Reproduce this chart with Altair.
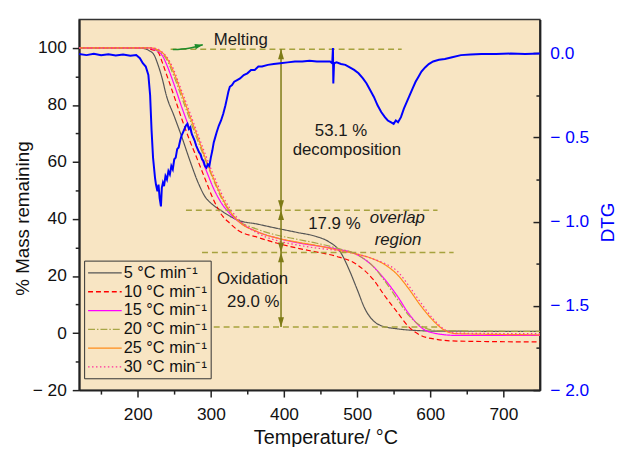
import altair as alt
import pandas as pd

FONT = "Liberation Sans, Arial, Helvetica, sans-serif"
BG = "#F8E5C3"
OLIVE = "#A6A23E"
OLIVE_DARK = "#7E7B16"
GREEN = "#1E8C2A"
BLUE = "#0000FF"
INK = "#1a1a1a"

# ---------------- axis ranges and ticks ----------------
x_domain = [120, 750]
mass_domain = [-20, 110]
dtg_domain = [-2.0, 0.2]
x_tick_values = [150, 200, 250, 300, 350, 400, 450, 500, 550, 600, 650, 700]
mass_tick_values = [-20, -10, 0, 10, 20, 30, 40, 50, 60, 70, 80, 90, 100]
dtg_tick_values = [-2.0, -1.75, -1.5, -1.25, -1.0, -0.75, -0.5, -0.25, 0.0]

# ---------------- TG curves (% mass remaining) ----------------
series_labels = ["5 °C min⁻¹", "10 °C min⁻¹", "15 °C min⁻¹",
                 "20 °C min⁻¹", "25 °C min⁻¹", "30 °C min⁻¹"]
series_colors = ["#555555", "#FF0000", "#FF00FF", "#A8A646", "#FF8C1A", "#FF2E9A"]
series_dashes = [[1, 0], [5, 3], [1, 0], [7, 2, 1.5, 2], [1, 0], [1.5, 2.5]]

t_5 = [120, 200, 211, 216, 222.7, 228, 233.5, 239, 250, 260.7, 271.5, 282.4, 293, 300.4,
       313.8, 336, 364, 391, 418, 445, 461, 478, 489, 500, 511, 522, 533, 555, 582, 609, 750]
m_5 = [100, 100, 99.6, 99, 97.4, 93.9, 89.3, 83.5, 76, 68.5, 60.4, 52.9, 47.5, 45.5,
       43.0, 39.7, 38.2, 36.7, 35.3, 33.8, 32.1, 28.1, 22.3, 15.4, 8.4, 4.4, 2.6, 1.5, 0.9, 0.7, 0.6]

t_10 = [120, 210, 218, 228, 233.5, 239, 250, 260.7, 271.5, 282.4, 293, 304, 315, 326, 337,
        364, 391, 418, 445, 472, 500, 522, 538, 555, 571, 587, 609, 636, 750]
m_10 = [100, 100, 99.5, 98.5, 95, 91, 82.9, 74.8, 67.3, 60.4, 53.5, 46.6, 41.4, 38.5, 36.1,
        33.6, 31.5, 29.8, 28.4, 26.9, 24, 18.8, 13, 7.3, 2.1, -0.8, -2.2, -2.8, -3.1]

t_15 = [120, 214, 222, 233.5, 239, 250, 260.7, 271.5, 282.4, 293, 304, 315, 326, 337, 364,
        391, 418, 445, 472, 500, 522, 538, 555, 571, 587, 609, 636, 750]
m_15 = [100, 100, 99.5, 97.4, 94.5, 87, 78.9, 71.4, 64.4, 57.5, 50.6, 45.4, 41.9, 39.3, 35.5,
        33.3, 31.7, 30.6, 29.5, 27.5, 23.4, 18.8, 13, 6.7, 2.1, -0.2, -0.8, -0.8]

t_20 = [120, 216, 224, 239, 250, 260.7, 271.5, 282.4, 293, 304, 315, 326, 337, 364, 391,
        418, 445, 472, 500, 522, 538, 555, 571, 587, 609, 750]
m_20 = [100, 100, 99.5, 96.2, 89.8, 82.3, 74.8, 67.3, 60.4, 53.5, 47.1, 42.5, 39.6, 36.4, 34.3,
        32.9, 31.5, 29.8, 27.5, 23.4, 18.2, 11.9, 6.1, 2.6, 0.9, 0.6]

t_25 = [120, 218, 226, 239, 250, 260.7, 271.5, 282.4, 293, 304, 315, 326, 337, 364, 391,
        418, 445, 472, 500, 522, 538, 555, 571, 587, 604, 620, 636, 750]
m_25 = [100, 100, 99.5, 96.8, 91, 83.5, 76, 68.5, 61, 54, 47.7, 42.8, 39.4, 35.5, 33.3,
        31.9, 30.7, 29.2, 27.7, 26, 24, 20.5, 15.4, 9.6, 4.4, 0.9, -0.2, -0.6]

t_30 = [120, 220, 228, 244.4, 260.7, 282.4, 304, 315, 326, 337, 364, 391, 418, 445, 472,
        500, 522, 538, 555, 571, 587, 604, 620, 636, 750]
m_30 = [100, 100, 99.5, 95, 84.6, 69.6, 55.2, 48.8, 43.7, 40.2, 35, 32.4, 30.9, 29.8, 29,
        27.7, 26, 24.4, 21.7, 16.5, 10.7, 5, 1.2, 0, -0.2]

# ---------------- DTG curve ----------------
dtg_t = [120, 130, 140, 150, 160, 170, 180, 190, 198, 203, 207, 211, 214.6, 217, 219, 221,
         223.7, 225, 227, 228.5, 230, 231.8, 233, 234.5, 236, 238, 240, 242, 244, 246, 248,
         250, 252, 254, 256, 258, 260, 262, 264, 266, 268, 270, 272, 274, 276, 278, 280, 282,
         284, 286, 288, 290, 292, 294, 296, 298, 300, 302, 304, 306, 308, 311, 314, 317, 320,
         322, 324, 326, 329, 332, 336, 340, 345, 350, 355, 360, 365, 370, 378, 386, 395, 405,
         415, 425, 435, 445, 455, 463, 466, 467, 467.5, 468.5, 472, 478, 484, 490, 496, 502,
         508, 513, 518, 523, 528, 533, 538, 542, 546, 550, 553, 556, 560, 564, 568, 572, 576,
         580, 584, 588, 593, 598, 604, 612, 620, 630, 642, 655, 670, 690, 710, 730, 750]
dtg_v = [-0.005, -0.012, -0.004, -0.013, -0.007, -0.014, -0.009, -0.016, -0.012, -0.03, -0.06,
         -0.08, -0.13, -0.25, -0.46, -0.62, -0.74, -0.78, -0.82, -0.78, -0.86, -0.91, -0.80,
         -0.77, -0.79, -0.73, -0.75, -0.70, -0.72, -0.67, -0.69, -0.63, -0.62, -0.57, -0.56,
         -0.52, -0.49, -0.47, -0.45, -0.43, -0.42, -0.45, -0.44, -0.48, -0.50, -0.52, -0.55,
         -0.57, -0.59, -0.60, -0.63, -0.64, -0.67, -0.68, -0.66, -0.67, -0.62, -0.58, -0.53,
         -0.50, -0.47, -0.43, -0.40, -0.36, -0.31, -0.27, -0.23, -0.20, -0.19, -0.17, -0.16,
         -0.15, -0.13, -0.12, -0.10, -0.10, -0.08, -0.08, -0.07, -0.065, -0.06, -0.055, -0.05,
         -0.05, -0.045, -0.05, -0.05, -0.05, -0.06, 0.03, -0.18, -0.06, -0.055, -0.065, -0.07,
         -0.085, -0.10, -0.12, -0.15, -0.18, -0.22, -0.26, -0.31, -0.35, -0.38, -0.40, -0.41,
         -0.42, -0.40, -0.41, -0.38, -0.33, -0.29, -0.25, -0.21, -0.17, -0.14, -0.11, -0.085,
         -0.065, -0.05, -0.04, -0.035, -0.025, -0.012, -0.008, -0.005, -0.005, -0.003, -0.005,
         -0.003]

# ---------------- annotations ----------------
guide_y = [99.5, 43.1, 28.3, 2.1]
guide_t_start = [245, 266, 288, 304]
guide_t_end = [561, 610, 632, 610]

span_t = [396]
span_top = [99.5]
span_bottom = [2.1]
tip_up_y = [99.5, 43.1, 28.3]
tip_down_y = [43.1, 28.3, 2.1]

melt_t = [248, 270, 289]
melt_y = [99.4, 99.9, 101.1]

label_text = ["Melting", "53.1 %", "decomposition", "17.9 %", "Oxidation", "29.0 %"]
label_t = [341, 478, 486, 469, 357, 358]
label_y = [102.6, 70.8, 64.1, 38.1, 19.1, 10.9]
italic_text = ["overlap", "region"]
italic_t = [555, 556]
italic_y = [40.5, 32.7]

# ---------------- data frames ----------------
rows = []
for i, (lab, ts, ms) in enumerate(zip(series_labels, [t_5, t_10, t_15, t_20, t_25, t_30],
                                      [m_5, m_10, m_15, m_20, m_25, m_30])):
    for t, m in zip(ts, ms):
        rows.append({"T": t, "y": m, "series": lab})
tg_df = pd.DataFrame(rows)
dtg_df = pd.DataFrame({"T": dtg_t, "dtg": dtg_v})
guide_df = pd.DataFrame({"T": guide_t_start, "T2": guide_t_end, "y": guide_y})
span_df = pd.DataFrame({"T": span_t, "y": span_top, "y2": span_bottom})
up_df = pd.DataFrame({"T": span_t * len(tip_up_y), "y": tip_up_y})
down_df = pd.DataFrame({"T": span_t * len(tip_down_y), "y": tip_down_y})
melt_df = pd.DataFrame({"T": melt_t, "y": melt_y})
melt_head_df = melt_df.tail(1)
label_df = pd.DataFrame({"T": label_t, "y": label_y, "text": label_text})
italic_df = pd.DataFrame({"T": italic_t, "y": italic_y, "text": italic_text})

# ---------------- axes ----------------
common_axis = dict(labelFont=FONT, labelColor="#111111", tickColor="#222222", tickWidth=1.5,
                   domainColor="#222222", domainWidth=2, grid=False, labelOverlap=False,
                   titleFont=FONT, titleFontWeight="normal", titleColor="#111111")

x_axis = alt.Axis(values=x_tick_values,
                  labelExpr="datum.value % 100 !== 0 ? '' : datum.label",
                  tickSize=alt.ExprRef(expr="datum.value % 100 !== 0 ? 4 : 7"),
                  labelPadding=9, labelFontSize=17.5, titleFontSize=20,
                  titleX=249, titleY=54, titleBaseline="alphabetic", titleAlign="center",
                  **common_axis)
y_axis = alt.Axis(values=mass_tick_values,
                  labelExpr="datum.value % 20 !== 0 ? '' : (datum.value < 0 ? '− ' + abs(datum.value) : '' + datum.value)",
                  tickSize=alt.ExprRef(expr="datum.value % 20 !== 0 ? 4 : 7"),
                  labelPadding=6, labelFontSize=17.5, titleFontSize=19,
                  titleX=-57, titleY=201, titleAngle=270, titleBaseline="middle",
                  titleAlign="center", **common_axis)
dtg_axis_kw = dict(common_axis)
dtg_axis_kw.update(labelColor=BLUE, titleColor=BLUE)
dtg_axis = alt.Axis(orient="right", values=dtg_tick_values,
                    labelExpr="abs(round(datum.value*4)) % 2 !== 0 ? '' : (datum.value < 0 ? '− ' + format(abs(datum.value), '.1f') : format(abs(datum.value), '.1f'))",
                    tickSize=alt.ExprRef(expr="abs(round(datum.value*4)) % 2 !== 0 ? -4 : -7"),
                    labelPadding=17, labelFontSize=17.5, titleFontSize=19,
                    titleX=68, titleY=205, titleAngle=270, titleBaseline="middle",
                    titleAlign="center", **dtg_axis_kw)

X_TITLE = "Temperature/ °C"
Y_TITLE = "% Mass remaining"


def xenc(field="T"):
    return alt.X(f"{field}:Q", scale=alt.Scale(domain=x_domain, nice=False, zero=False),
                 axis=x_axis, title=X_TITLE)


def yenc(field="y"):
    return alt.Y(f"{field}:Q", scale=alt.Scale(domain=mass_domain, nice=False, zero=False),
                 axis=y_axis, title=Y_TITLE)


legend = alt.Legend(title=None, orient="none", legendX=5, legendY=244, direction="vertical",
                    symbolType="M-1,0H3", symbolSize=289, symbolStrokeWidth=1.3,
                    symbolFillColor="transparent", labelOffset=18,
                    labelFont=FONT, labelFontSize=16.5, labelColor="#111111",
                    strokeColor="#333333", fillColor=BG, padding=3, rowPadding=1)

tg = alt.Chart(tg_df).mark_line(strokeWidth=1.2, interpolate="monotone").encode(
    x=xenc(), y=yenc(),
    color=alt.Color("series:N", scale=alt.Scale(domain=series_labels, range=series_colors),
                    legend=legend),
    strokeDash=alt.StrokeDash("series:N", scale=alt.Scale(domain=series_labels, range=series_dashes),
                              legend=legend),
)

guides = alt.Chart(guide_df).mark_rule(color=OLIVE, strokeWidth=1.5, strokeDash=[6, 4]).encode(
    x=xenc(), x2="T2:Q", y=yenc())

span = alt.Chart(span_df).mark_rule(color=OLIVE_DARK, strokeWidth=1.5).encode(
    x=xenc(), y=yenc(), y2="y2:Q")

tips_up = alt.Chart(up_df).mark_point(shape="M0,0L-0.6,2L0.6,2Z", size=100, filled=True,
                                      color=OLIVE_DARK, opacity=1).encode(x=xenc(), y=yenc())
tips_down = alt.Chart(down_df).mark_point(shape="M0,0L-0.6,-2L0.6,-2Z", size=100, filled=True,
                                          color=OLIVE_DARK, opacity=1).encode(x=xenc(), y=yenc())

melt_line = alt.Chart(melt_df).mark_line(color=GREEN, strokeWidth=1.5, interpolate="monotone").encode(
    x=xenc(), y=yenc())
melt_head = alt.Chart(melt_head_df).mark_point(shape="M0,0L-2,-0.7L-2,0.7Z", size=64, filled=True,
                                               color=GREEN, opacity=1, angle=346).encode(
    x=xenc(), y=yenc())

labels = alt.Chart(label_df).mark_text(font=FONT, fontSize=17, color=INK, align="center",
                                       baseline="middle").encode(x=xenc(), y=yenc(), text="text:N")
italics = alt.Chart(italic_df).mark_text(font=FONT, fontSize=17, fontStyle="italic", color=INK,
                                         align="center", baseline="middle").encode(
    x=xenc(), y=yenc(), text="text:N")

left = alt.layer(tg, guides, span, tips_up, tips_down, melt_line, melt_head, labels, italics)

dtg = alt.Chart(dtg_df).mark_line(color=BLUE, strokeWidth=2).encode(
    x=xenc(),
    y=alt.Y("dtg:Q", scale=alt.Scale(domain=dtg_domain, nice=False, zero=False),
            axis=dtg_axis, title="DTG"),
)

chart = alt.layer(left, dtg).resolve_scale(y="independent").properties(
    width=466, height=375,
    autosize=alt.AutoSizeParams(type="none"),
    padding={"left": 72, "top": 9, "right": 80, "bottom": 55},
).configure_view(fill=BG, stroke="#333333", strokeWidth=1.5)

chart.save("out.html", embed_options={"renderer": "svg", "actions": False})
